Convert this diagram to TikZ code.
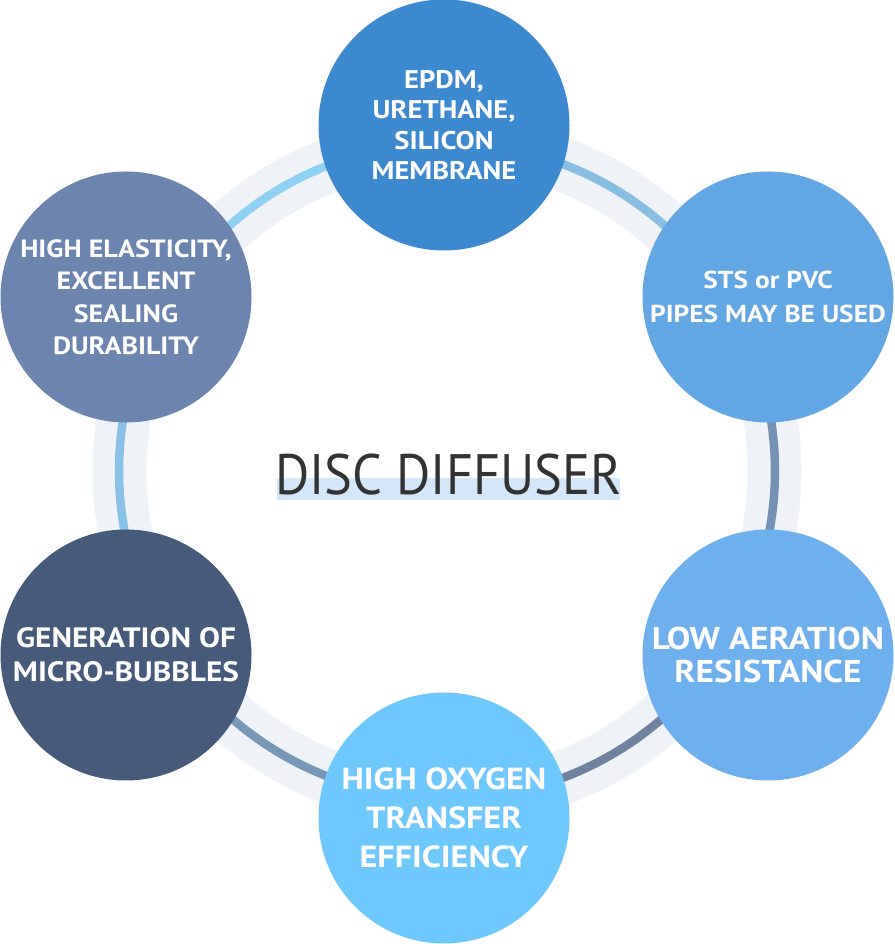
\documentclass[tikz,border=0pt]{standalone}
\usepackage{fontspec}
\setmainfont{PT Sans}
\newfontfamily\bubblefont[FakeStretch=1.12]{PT Sans}
\newfontfamily\titlefont[FakeStretch=0.92]{PT Sans}
\usetikzlibrary{positioning}
\definecolor{bandgray}{HTML}{EFF3F7}
\definecolor{hilite}{HTML}{D4E6F9}
\definecolor{titlegray}{HTML}{333333}
\definecolor{topc}{HTML}{3D89CF}
\definecolor{trc}{HTML}{62A6E4}
\definecolor{brc}{HTML}{6EB0ED}
\definecolor{botc}{HTML}{6FC8FD}
\definecolor{blc}{HTML}{465A7B}
\definecolor{tlc}{HTML}{6B84B0}
\definecolor{arcA}{HTML}{8FD0F5}
\definecolor{arcB}{HTML}{87BEE3}
\definecolor{arcC}{HTML}{7492B5}
\definecolor{arcD}{HTML}{6F82A0}
\definecolor{arcE}{HTML}{7697B8}
\definecolor{arcF}{HTML}{88C2E8}

\begin{document}
\begin{tikzpicture}[
    x=1pt, y=1pt,
    bubble/.style={circle,minimum size=251pt,inner sep=0pt,align=center,text=white},
    ringline/.style={line width=8.5pt}
    ]
    \useasboundingbox (0,0) rectangle (894,944);
    \coordinate (hub) at (447,473);

    % ring behind the bubbles
    \draw[bandgray, line width=54pt] (hub) circle[radius=327.5pt];
    \foreach \a/\b/\c in {151.5/90.5/arcA, 90.5/28.5/arcB, 28.5/-28.5/arcC,
        -28.5/-90.5/arcD, -90.5/-151.5/arcE, -151.5/-208.5/arcF}
      \draw[ringline,\c] ([shift={(hub)}]\a:328pt) arc[start angle=\a, end angle=\b, radius=328pt];

    \node[bubble, fill=topc, font={\bubblefont\bfseries\fontsize{25.5}{30.5}\selectfont}] (membrane) at (444,819)
      {EPDM,\\URETHANE,\\SILICON\\MEMBRANE};
    \node[bubble, fill=trc, font={\bubblefont\bfseries\fontsize{24.5}{34}\selectfont}] (pipes) at (768,647)
      {STS or PVC\\PIPES MAY BE USED};
    \node[bubble, fill=brc, font={\bubblefont\bfseries\fontsize{31.5}{33}\selectfont}] (resist) at (768,289)
      {LOW AERATION\\RESISTANCE};
    \node[bubble, fill=botc, font={\bubblefont\bfseries\fontsize{30.5}{39}\selectfont}] (oxygen) at (444,126)
      {HIGH OXYGEN\\TRANSFER\\EFFICIENCY};
    \node[bubble, fill=blc, font={\bubblefont\bfseries\fontsize{28}{34}\selectfont}] (bubbles) at (126,289)
      {GENERATION OF\\MICRO-BUBBLES};
    \node[bubble, fill=tlc, font={\bubblefont\bfseries\fontsize{25}{32.5}\selectfont}] (elastic) at (126,647)
      {HIGH ELASTICITY,\\EXCELLENT\\SEALING\\DURABILITY};

    % title
    \fill[hilite] (277,444) rectangle (620,466);
    \node[anchor=base, inner sep=0pt, text=titlegray, font=\titlefont\fontsize{57}{57}\selectfont] (title) at (448.5,449)
      {DISC DIFFUSER};

  \end{tikzpicture}
\end{document}
